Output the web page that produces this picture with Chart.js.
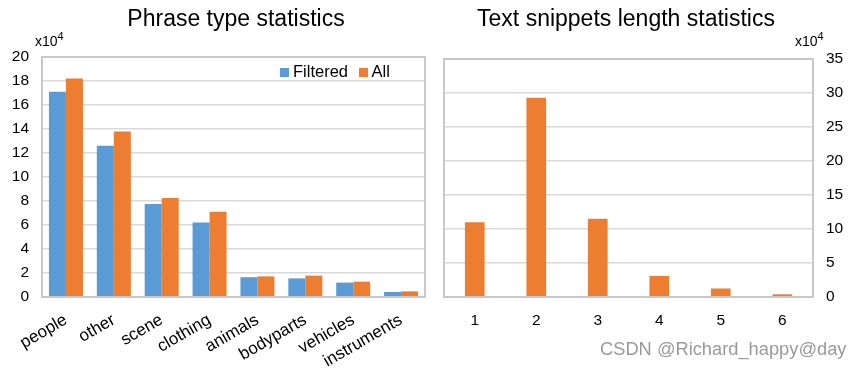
<!DOCTYPE html>
<html>
<head>
<meta charset="utf-8">
<script src="https://cdn.jsdelivr.net/npm/chart.js@4"></script>
<style>
  body { margin: 0; width: 862px; height: 368px; position: relative; background: #fff; overflow: hidden;
         font-family: "Liberation Sans", Arial, sans-serif; color: #000; }
  .box { position: absolute; top: 0; height: 368px; }
  .title { position: absolute; top: 7px; font-size: 23px; line-height: 23px; white-space: nowrap; transform: translateX(-50%); }
  .mult { position: absolute; top: 34px; font-size: 14px; line-height: 14px; white-space: nowrap; }
  .mult span { position: relative; top: -6px; font-size: 11px; }
  .legend { position: absolute; top: 63px; left: 280px; font-size: 16.5px; line-height: 16px; white-space: nowrap; }
  .legend i { display: inline-block; width: 9px; height: 9px; margin-right: 4px; }
  .mark { position: absolute; left: 600px; top: 340px; font-size: 18.3px; line-height: 18px; color: #9a9a9a; white-space: nowrap; }
</style>
</head>
<body>
<div class="box" style="left:0;width:440px"><canvas id="phrase-chart"></canvas></div>
<div class="box" style="left:430px;width:432px"><canvas id="length-chart"></canvas></div>

<div class="title" style="left:236px">Phrase type statistics</div>
<div class="title" style="left:626px">Text snippets length statistics</div>
<div class="mult" style="left:35px">x10<span>4</span></div>
<div class="mult" style="left:795px">x10<span>4</span></div>
<div class="legend"><i style="background:#5B9BD5"></i>Filtered <i style="background:#ED7D31;margin-left:6px"></i>All</div>
<div class="mark">CSDN @Richard_happy@day</div>

<script>
// valores en unidades de 10^4
const phraseTypes = ['people', 'other', 'scene', 'clothing', 'animals', 'bodyparts', 'vehicles', 'instruments'];
const filteredCounts = [17.1, 12.6, 7.75, 6.2, 1.65, 1.55, 1.2, 0.42];
const allCounts = [18.2, 13.8, 8.25, 7.1, 1.72, 1.78, 1.28, 0.47];

const snippetLengths = ['1', '2', '3', '4', '5', '6'];
const snippetCounts = [11.0, 29.3, 11.5, 3.1, 1.25, 0.4];

const BLUE = '#5B9BD5';
const ORANGE = '#ED7D31';
const FONT = '"Liberation Sans", Arial, sans-serif';

Chart.defaults.font.family = FONT;
Chart.defaults.color = '#000';

// marco gris alrededor del area del grafico
const framePlugin = {
  id: 'frame',
  afterDraw(chart) {
    const { ctx, chartArea: a } = chart;
    ctx.save();
    ctx.strokeStyle = '#C8C8C8';
    ctx.lineWidth = 2;
    ctx.strokeRect(a.left, a.top, a.right - a.left, a.bottom - a.top);
    ctx.restore();
  }
};

function baseOptions(yOpts, xOpts, padding) {
  return {
    responsive: true,
    maintainAspectRatio: false,
    animation: false,
    layout: { padding },
    plugins: { legend: { display: false }, tooltip: { enabled: false } },
    scales: {
      x: Object.assign({
        grid: { display: false },
        border: { display: false },
      }, xOpts),
      y: Object.assign({
        min: 0,
        grid: { color: '#D9D9D9', lineWidth: 1.5, drawTicks: false },
        border: { display: false },
      }, yOpts)
    }
  };
}

new Chart(document.getElementById('phrase-chart'), {
  type: 'bar',
  data: {
    labels: phraseTypes,
    datasets: [
      { label: 'Filtered', data: filteredCounts, backgroundColor: BLUE, categoryPercentage: 0.71, barPercentage: 1 },
      { label: 'All', data: allCounts, backgroundColor: ORANGE, categoryPercentage: 0.71, barPercentage: 1 }
    ]
  },
  options: baseOptions(
    { max: 20, ticks: { stepSize: 2, padding: 13, font: { size: 15.5 } }, afterFit: s => { s.width = 42; } },
    { ticks: { minRotation: 30, maxRotation: 30, padding: 5, font: { size: 17 } }, afterFit: s => { s.height = 71; } },
    { top: 57, right: 15, left: 0, bottom: 0 }
  ),
  plugins: [framePlugin]
});

new Chart(document.getElementById('length-chart'), {
  type: 'bar',
  data: {
    labels: snippetLengths,
    datasets: [
      { label: 'Count', data: snippetCounts, backgroundColor: ORANGE, categoryPercentage: 0.32, barPercentage: 1 }
    ]
  },
  options: baseOptions(
    { max: 35, position: 'right', ticks: { stepSize: 5, padding: 13, font: { size: 15.5 } }, afterFit: s => { s.width = 49; } },
    { ticks: { padding: 6, font: { size: 15.5 } }, afterFit: s => { s.height = 71; } },
    { top: 59, right: 0, left: 14, bottom: 0 }
  ),
  plugins: [framePlugin]
});
</script>
</body>
</html>
